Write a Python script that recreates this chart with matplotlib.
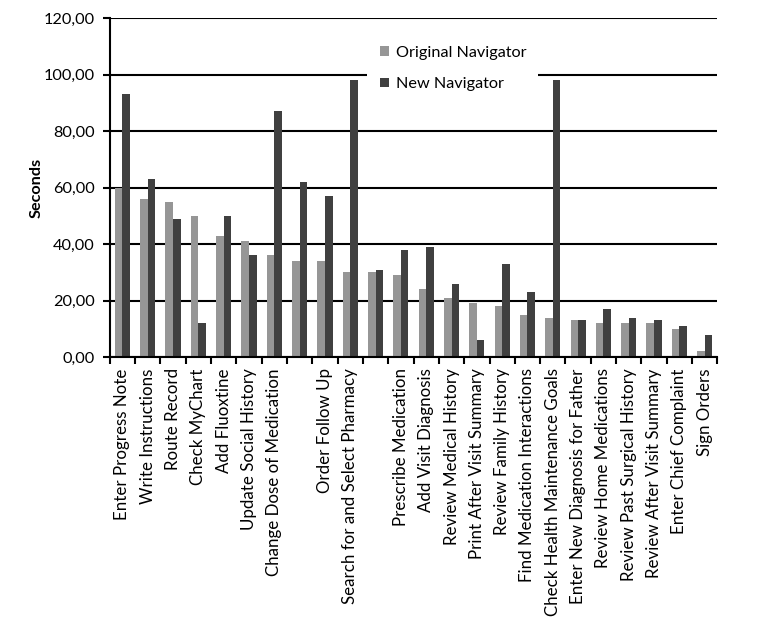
import matplotlib
matplotlib.use("Agg")
import matplotlib.pyplot as plt
import numpy as np
from matplotlib.ticker import FuncFormatter
from matplotlib.patches import Rectangle

tasks = ["Enter Progress Note", "Write Instructions", "Route Record", "Check MyChart",
         "Add Fluoxtine", "Update Social History", "Change Dose of Medication", "",
         "Order Follow Up", "Search for and Select Pharmacy", "", "Prescribe Medication",
         "Add Visit Diagnosis", "Review Medical History", "Print After Visit Summary",
         "Review Family History", "Find Medication Interactions",
         "Check Health Maintenance Goals", "Enter New Diagnosis for Father",
         "Review Home Medications", "Review Past Surgical History",
         "Review After Visit Summary", "Enter Chief Complaint", "Sign Orders"]
original = [60, 56, 55, 50, 43, 41, 36, 34, 34, 30, 30, 29, 24, 21, 19, 18, 15, 14,
            13, 12, 12, 12, 10, 2]
new = [93, 63, 49, 12, 50, 36, 87, 62, 57, 98, 31, 38, 39, 26, 6, 33, 23, 98,
       13, 17, 14, 13, 11, 8]

plt.rcParams['font.family'] = ['Lato', 'DejaVu Sans']
fs = 11.7

fig = plt.figure(figsize=(7.84, 6.2), dpi=100)
ax = fig.add_axes([0.140, 0.424, 0.775, 0.547])

x = np.arange(len(tasks))
w = 0.3
ax.bar(x - w / 2, original, w, color='#969696', label='Original Navigator', zorder=2)
ax.bar(x + w / 2, new, w, color='#404040', label='New Navigator', zorder=2)

ax.set_xlim(-0.5, len(tasks) - 0.5)
ax.set_ylim(0, 120)
ax.set_yticks(range(0, 121, 20))
ax.yaxis.set_major_formatter(FuncFormatter(lambda v, p: f"{v:.2f}".replace('.', ',')))
ax.grid(axis='y', color='black', linewidth=1.5, zorder=0)
ax.set_axisbelow(True)

ax.set_xticks(x)
ax.set_xticklabels(tasks, rotation=90, fontsize=12.2)
ax.tick_params(axis='x', which='major', length=0, pad=8)
ax.set_xticks(np.arange(-0.5, len(tasks)), minor=True)
ax.tick_params(axis='x', which='minor', length=5, width=1.5, direction='out')
ax.tick_params(axis='y', labelsize=fs, length=5, width=1.5, pad=6)

for s in ['top', 'right']:
    ax.spines[s].set_visible(False)
for s in ['left', 'bottom']:
    ax.spines[s].set_linewidth(1.5)

ax.set_ylabel("Seconds", fontsize=fs, fontweight='bold', labelpad=0)

# white legend area (hides the gridline behind it)
ax.add_patch(Rectangle((0.423, 0.773), 0.282, 0.19, transform=ax.transAxes,
                       facecolor='white', edgecolor='none', zorder=1))
ax.legend(loc='upper left', bbox_to_anchor=(0.445, 0.917), fontsize=fs,
          frameon=False, handlelength=0.55, handleheight=0.55,
          handletextpad=0.4, labelspacing=1.05, borderpad=0, borderaxespad=0)

fig.savefig("out.png", dpi=100)
